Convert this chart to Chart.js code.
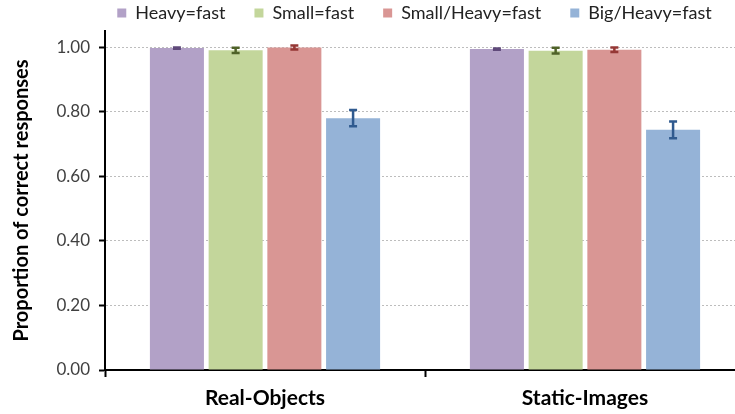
<!DOCTYPE html>
<html>
<head>
<meta charset="utf-8">
<script src="https://cdn.jsdelivr.net/npm/chart.js@4/dist/chart.umd.min.js"></script>
<style>
  html, body { margin: 0; padding: 0; background: #fff; overflow: hidden; width: 735px; height: 414px; }
  canvas { display: block; }
</style>
</head>
<body>
<canvas id="chart" width="760" height="414"></canvas>
<script>
// Conditions on the x axis
const categories = ['Real-Objects', 'Static-Images'];

// Mapping conditions (one bar per condition in each group)
const seriesNames = ['Heavy=fast', 'Small=fast', 'Small/Heavy=fast', 'Big/Heavy=fast'];

// Mean proportion of correct responses
const heavyFast      = [0.997, 0.994];
const smallFast      = [0.990, 0.989];
const smallHeavyFast = [0.999, 0.992];
const bigHeavyFast   = [0.780, 0.744];

// Standard errors
const heavyFastErr      = [0.002, 0.002];
const smallFastErr      = [0.008, 0.009];
const smallHeavyFastErr = [0.006, 0.007];
const bigHeavyFastErr   = [0.025, 0.026];

// Y axis tick values
const yTicks = [0, 0.2, 0.4, 0.6, 0.8, 1.0];

const fills      = ['#B2A1C7', '#C3D69B', '#D99694', '#95B3D7'];
const errColors  = ['#5F497A', '#4F6228', '#953735', '#2F5A8F'];
const values     = [heavyFast, smallFast, smallHeavyFast, bigHeavyFast];
const errors     = [heavyFastErr, smallFastErr, smallHeavyFastErr, bigHeavyFastErr];

const LEGEND_DX = 42;
const FONT = 'Lato, "Open Sans", sans-serif';

// Draws the +/- error whiskers on top of every bar
const errorBars = {
  id: 'errorBars',
  afterDatasetsDraw(chart) {
    const ctx = chart.ctx;
    const y = chart.scales.y;
    chart.data.datasets.forEach((ds, i) => {
      const meta = chart.getDatasetMeta(i);
      meta.data.forEach((bar, j) => {
        const v = ds.data[j], e = ds.errors[j];
        const yTop = y.getPixelForValue(v + e);
        const yBot = y.getPixelForValue(v - e);
        const cap = 4;
        ctx.save();
        ctx.strokeStyle = ds.errorColor;
        ctx.lineWidth = 2.5;
        ctx.beginPath();
        ctx.moveTo(bar.x, yTop); ctx.lineTo(bar.x, yBot);
        ctx.moveTo(bar.x - cap, yTop); ctx.lineTo(bar.x + cap, yTop);
        ctx.moveTo(bar.x - cap, yBot); ctx.lineTo(bar.x + cap, yBot);
        ctx.stroke();
        ctx.restore();
      });
    });
  }
};

// Moves the legend row sideways
const legendShift = {
  id: 'legendShift',
  afterLayout(chart) {
    if (chart.legend) {
      chart.legend.left += LEGEND_DX;
      chart.legend.right += LEGEND_DX;
    }
  }
};

new Chart(document.getElementById('chart'), {
  type: 'bar',
  data: {
    labels: categories,
    datasets: seriesNames.map((name, i) => ({
      label: name,
      data: values[i],
      errors: errors[i],
      errorColor: errColors[i],
      backgroundColor: fills[i],
      borderWidth: 0,
      categoryPercentage: 0.734,
      barPercentage: 0.92
    }))
  },
  options: {
    responsive: false,
    animation: false,
    devicePixelRatio: 1,
    layout: { padding: { top: -25, right: 15, left: 0, bottom: 0 } },
    plugins: {
      tooltip: { enabled: false },
      legend: {
        position: 'top',
        maxHeight: 56,
        labels: {
          boxWidth: 9,
          boxHeight: 9,
          padding: 29,
          color: '#222',
          font: { family: FONT, size: 18 }
        }
      }
    },
    scales: {
      x: {
        offset: true,
        grid: {
          display: true,
          offset: true,
          drawOnChartArea: false,
          drawTicks: true,
          tickLength: 7,
          tickColor: '#000',
          tickWidth: 2
        },
        border: { display: true, color: '#000', width: 2 },
        ticks: {
          color: '#000',
          padding: 9,
          font: { family: FONT, size: 21, weight: 'bold' }
        },
        afterFit(scale) { scale.height = 44; }
      },
      y: {
        min: 0,
        max: 1.05,
        afterBuildTicks(scale) {
          scale.ticks = yTicks.map(v => ({ value: v }));
        },
        ticks: {
          color: '#404040',
          padding: 9,
          font: { family: FONT, size: 17 },
          callback: v => Number(v).toFixed(2)
        },
        grid: {
          color: '#bdbdbd',
          lineWidth: 1,
          drawTicks: true,
          tickLength: 6,
          tickColor: '#000',
          tickWidth: 2,
          tickBorderDash: []
        },
        border: { display: true, color: '#000', width: 2, dash: [2, 2] },
        title: {
          display: true,
          text: 'Proportion of correct responses',
          color: '#000',
          padding: { top: 10, bottom: 0 },
          font: { family: FONT, size: 20, weight: 'bold' }
        },
        afterFit(scale) { scale.width = 105; }
      }
    }
  },
  plugins: [errorBars, legendShift]
});
</script>
</body>
</html>
